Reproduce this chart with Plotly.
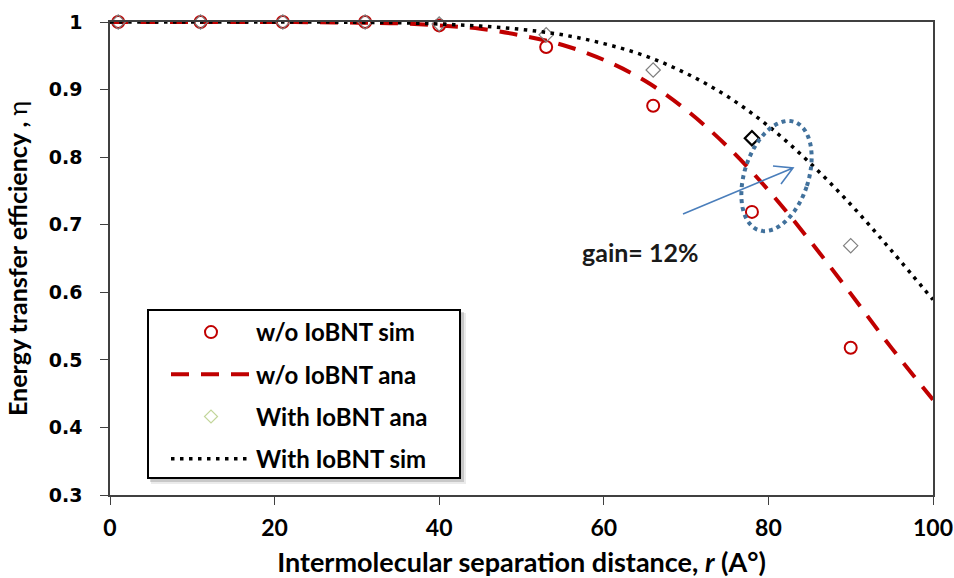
import math
import plotly.graph_objects as go

# ---- data ----
r_sim = [1, 11, 21, 31, 40, 53, 66, 78, 90]
wo_sim = [1.0, 1.0, 1.0, 1.0, 0.995, 0.963, 0.876, 0.719, 0.518]
with_ana = [1.0, 1.0, 1.0, 1.0, 0.997, 0.981, 0.929, 0.828, 0.669]

r_curve = [0, 5, 10, 15, 20, 25, 30, 35, 40, 45, 50, 55, 60, 65, 70, 75, 80, 85, 90, 95, 100]
wo_ana = [1.0, 1.0, 1.0, 1.0, 1.0, 0.9997, 0.999, 0.998, 0.995, 0.990, 0.980, 0.966,
          0.944, 0.913, 0.870, 0.816, 0.751, 0.677, 0.598, 0.517, 0.441]
with_sim = [1.0, 1.0, 1.0, 1.0, 1.0, 1.0, 0.9995, 0.999, 0.997, 0.994, 0.989, 0.981,
            0.968, 0.950, 0.924, 0.890, 0.846, 0.792, 0.730, 0.661, 0.589]

x_ticks = [0, 20, 40, 60, 80, 100]
y_ticks = [0.3, 0.4, 0.5, 0.6, 0.7, 0.8, 0.9, 1.0]
y_tick_text = ["0.3", "0.4", "0.5", "0.6", "0.7", "0.8", "0.9", "1"]

RED = "#c00000"
BLUE = "#41719c"

fig = go.Figure()

fig.add_trace(go.Scatter(
    x=r_sim, y=wo_sim, mode="markers", name="w/o IoBNT sim",
    legendgroup="a", cliponaxis=False,
    marker=dict(symbol="circle-open", size=12, color=RED, line=dict(width=2, color=RED)),
))
fig.add_trace(go.Scatter(
    x=r_curve, y=wo_ana, mode="lines", name="w/o IoBNT ana",
    legendgroup="b", line=dict(color=RED, width=4, dash="18px,12px", shape="spline"),
))
dia_colors = ["#7f7f7f"] * len(r_sim)
dia_widths = [1.2] * len(r_sim)
dia_colors[7] = "#000000"
dia_widths[7] = 2.2
fig.add_trace(go.Scatter(
    x=r_sim, y=with_ana, mode="markers", name="With IoBNT ana", showlegend=False,
    cliponaxis=False,
    marker=dict(symbol="diamond-open", size=11, color=dia_colors,
                line=dict(width=dia_widths, color=dia_colors)),
))
fig.add_trace(go.Scatter(
    x=[None], y=[None], mode="markers", name="With IoBNT ana", legendgroup="c",
    marker=dict(symbol="diamond-open", size=10, color="#c3d69b", line=dict(width=1.2, color="#c3d69b")),
))
fig.add_trace(go.Scatter(
    x=r_curve, y=with_sim, mode="lines", name="With IoBNT sim",
    legendgroup="d", line=dict(color="black", width=3.5, dash="3.5px,5.5px", shape="spline"),
))

# ---- geometry in screen pixels (body margin removed below) ----
W, H = 954, 578
L, R, T, B = 110, 933, 22, 495
def px2x(px):
    return (px - L) / (R - L) * 100
def py2y(py):
    return 1.0 - (py - T) / (B - T) * 0.7
def pxp(px):
    return (px - L) / (R - L)
def pyp(py):
    return (B - py) / (B - T)

cx, cy, a, b, th = 776.5, 176, 57, 32, math.radians(18)
pts = []
for i in range(73):
    t = 2 * math.pi * i / 72
    ex = b * math.cos(t)
    ey = a * math.sin(t)
    px = cx + ex * math.cos(th) + ey * math.sin(th)
    py = cy + ex * math.sin(th) - ey * math.cos(th)
    pts.append((px2x(px), py2y(py)))
path = "M " + " L ".join(f"{x:.3f},{y:.4f}" for x, y in pts) + " Z"

shapes = [
    dict(type="path", xref="x", yref="y", path=path,
         line=dict(color=BLUE, width=4, dash="4px,4px"), layer="above"),
    dict(type="path", xref="x", yref="y",
         path=f"M {px2x(683):.3f},{py2y(214):.4f} L {px2x(793):.3f},{py2y(168):.4f} "
              f"M {px2x(773):.3f},{py2y(166):.4f} L {px2x(793):.3f},{py2y(168):.4f} "
              f"L {px2x(781):.3f},{py2y(184):.4f}",
         line=dict(color="#4a7ebb", width=1.6), layer="above"),
    # legend shadow + box
    dict(type="rect", xref="paper", yref="paper",
         x0=pxp(151), x1=pxp(466), y0=pyp(484), y1=pyp(313),
         fillcolor="rgba(0,0,0,0.08)", line=dict(width=0), layer="above"),
    dict(type="rect", xref="paper", yref="paper",
         x0=pxp(150), x1=pxp(464), y0=pyp(482), y1=pyp(312),
         fillcolor="rgba(0,0,0,0.15)", line=dict(width=0), layer="above"),
    dict(type="rect", xref="paper", yref="paper",
         x0=pxp(148), x1=pxp(460), y0=pyp(478), y1=pyp(310),
         fillcolor="white", line=dict(width=2, color="black"), layer="above"),
]

annotations = [
    dict(x=px2x(640), y=py2y(252), xref="x", yref="y", text="<b>gain= 12%</b>",
         showarrow=False, font=dict(family="Lato", size=25, color="#1a1a1a")),
]

fig.update_layout(
    width=W, height=H,
    margin=dict(l=L, r=W - R, t=T, b=H - B),
    paper_bgcolor="white", plot_bgcolor="white",
    showlegend=True,
    legend=dict(
        x=pxp(166), y=pyp(310), xanchor="left", yanchor="top",
        bgcolor="rgba(0,0,0,0)", borderwidth=0,
        font=dict(family="Lato", size=24, color="black", weight="bold"),
        tracegroupgap=8, itemwidth=80,
    ),
    shapes=shapes,
    annotations=annotations,
    xaxis=dict(
        range=[0, 100], tickvals=x_ticks, ticktext=[str(v) for v in x_ticks],
        automargin=False,
        showgrid=False, zeroline=False, showline=True, linecolor="#404040", linewidth=1.5,
        mirror=True, ticks="outside", ticklen=8, tickcolor="#404040",
        ticklabelstandoff=4,
        tickfont=dict(family="Lato", size=23, color="black", weight="bold"),
        title=dict(text="<b>Intermolecular separation distance, <i>r</i> (A°)</b>",
                   font=dict(family="Lato", size=27, color="black"), standoff=14),
    ),
    yaxis=dict(
        range=[0.3, 1.0], tickvals=y_ticks, ticktext=y_tick_text,
        automargin=False,
        showgrid=False, zeroline=False, showline=True, linecolor="#404040", linewidth=1.5,
        mirror=True, ticks="outside", ticklen=8, tickcolor="#404040",
        ticklabelstandoff=14,
        tickfont=dict(family="DejaVu Sans", size=19, color="black", weight="bold"),
        title=dict(text="<b>Energy transfer efficiency , </b>η",
                   font=dict(family="Lato", size=25, color="black"), standoff=14),
    ),
)

fig.write_html(
    "out.html",
    config={"displayModeBar": False},
    post_script="document.body.style.margin='0';document.body.style.overflow='hidden';",
)
